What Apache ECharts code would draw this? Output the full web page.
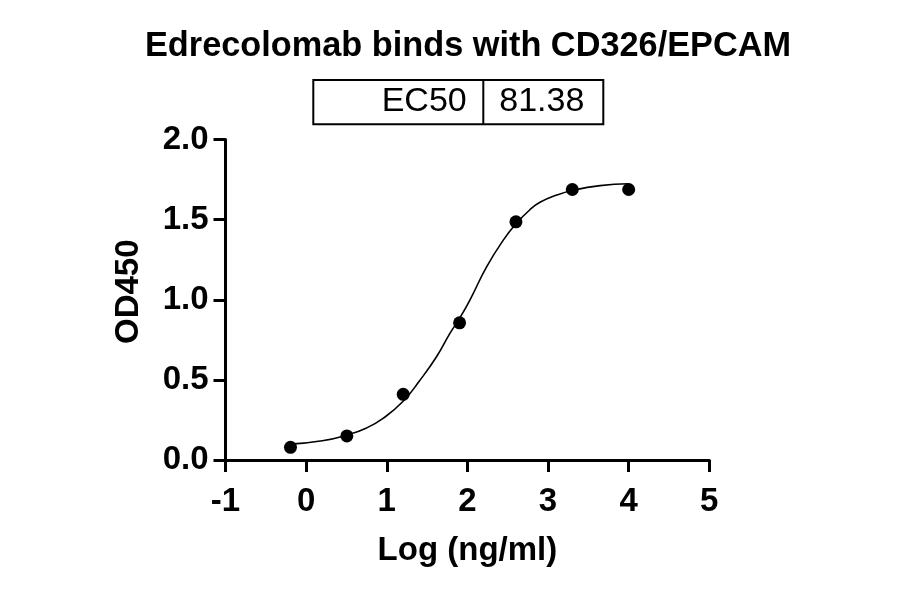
<!DOCTYPE html>
<html>
<head>
<meta charset="utf-8">
<script src="https://cdn.jsdelivr.net/npm/echarts@6/dist/echarts.min.js"></script>
<style>
  html, body { margin: 0; padding: 0; background: #ffffff; }
  #chart { width: 900px; height: 594px; }
</style>
</head>
<body>
<div id="chart"></div>
<script>
// ---- data ----
const chartTitle = 'Edrecolomab binds with CD326/EPCAM';
const ec50Label = 'EC50';
const ec50Value = '81.38';
const xAxisTitle = 'Log (ng/ml)';
const yAxisTitle = 'OD450';

// measured points (log concentration, OD450)
const pointX = [-0.194, 0.505, 1.204, 1.903, 2.602, 3.301, 4.0];
const pointY = [0.079, 0.150, 0.410, 0.856, 1.486, 1.688, 1.688];

// fitted curve
const fitX = [-0.194, 0.2, 0.5, 0.75, 0.954, 1.2, 1.4, 1.617, 1.783, 1.91, 2.031, 2.238, 2.445, 2.61, 2.776, 2.9, 3.1, 3.3, 3.646, 4.0];
const fitY = [0.099, 0.120, 0.155, 0.200, 0.260, 0.365, 0.490, 0.644, 0.790, 0.890, 0.998, 1.205, 1.372, 1.478, 1.562, 1.608, 1.652, 1.682, 1.712, 1.724];

// axis ticks
const xMin = -1, xMax = 5, xStep = 1;
const yMin = 0, yMax = 2, yStep = 0.5;

const FONT = '"Liberation Sans", Arial, Helvetica, sans-serif';

const chart = echarts.init(document.getElementById('chart'), null, { renderer: 'canvas' });

const scatterData = pointX.map((x, i) => [x, pointY[i]]);
const fitData = fitX.map((x, i) => [x, fitY[i]]);

// box geometry
const boxL = 313.3, boxR = 603.3, boxT = 80, boxB = 124.3, boxDiv = 483.3;

chart.setOption({
  backgroundColor: '#ffffff',
  animation: false,
  grid: { left: 225.5, right: 190.7, top: 139.5, bottom: 134, containLabel: false },
  xAxis: {
    type: 'value',
    min: xMin, max: xMax, interval: xStep,
    name: xAxisTitle,
    nameLocation: 'middle',
    nameGap: 74,
    nameTextStyle: { fontFamily: FONT, fontSize: 33, fontWeight: 'bold', color: '#000' },
    axisLine: { show: true, onZero: false, lineStyle: { color: '#000', width: 3 } },
    axisTick: { show: true, length: 12, lineStyle: { color: '#000', width: 3 } },
    axisLabel: { margin: 25, fontFamily: FONT, fontSize: 33, fontWeight: 'bold', color: '#000' },
    splitLine: { show: false }
  },
  yAxis: {
    type: 'value',
    min: yMin, max: yMax, interval: yStep,
    name: yAxisTitle,
    nameLocation: 'middle',
    nameGap: 80,
    nameRotate: 90,
    nameTextStyle: { fontFamily: FONT, fontSize: 33, fontWeight: 'bold', color: '#000', padding: [0, 0, 0, 16] },
    axisLine: { show: true, onZero: false, lineStyle: { color: '#000', width: 3 } },
    axisTick: { show: true, length: 12, lineStyle: { color: '#000', width: 3 } },
    axisLabel: {
      margin: 17, fontFamily: FONT, fontSize: 33, fontWeight: 'bold', color: '#000',
      formatter: v => v.toFixed(1)
    },
    splitLine: { show: false }
  },
  series: [
    {
      type: 'line',
      data: fitData,
      smooth: 0.5,
      showSymbol: false,
      symbol: 'none',
      lineStyle: { color: '#000', width: 1.6 },
      z: 2
    },
    {
      type: 'scatter',
      data: scatterData,
      symbol: 'circle',
      symbolSize: 13,
      itemStyle: { color: '#000', opacity: 1 },
      z: 3
    }
  ],
  graphic: [
    {
      type: 'text',
      style: {
        text: chartTitle,
        x: 468, y: 47,
        font: 'bold 34.3px ' + FONT,
        fill: '#000',
        textAlign: 'center',
        textVerticalAlign: 'middle'
      }
    },
    {
      type: 'rect',
      shape: { x: boxL, y: boxT, width: boxR - boxL, height: boxB - boxT },
      style: { fill: 'none', stroke: '#000', lineWidth: 2 }
    },
    {
      type: 'line',
      shape: { x1: boxDiv, y1: boxT, x2: boxDiv, y2: boxB },
      style: { stroke: '#000', lineWidth: 2 }
    },
    {
      type: 'text',
      style: {
        text: ec50Label,
        x: boxDiv - 16.6, y: 102,
        font: '34px ' + FONT,
        fill: '#000',
        textAlign: 'right',
        textVerticalAlign: 'middle'
      }
    },
    {
      type: 'text',
      style: {
        text: ec50Value,
        x: boxDiv + 16, y: 102,
        font: '34px ' + FONT,
        fill: '#000',
        textAlign: 'left',
        textVerticalAlign: 'middle'
      }
    }
  ]
});
</script>
</body>
</html>
